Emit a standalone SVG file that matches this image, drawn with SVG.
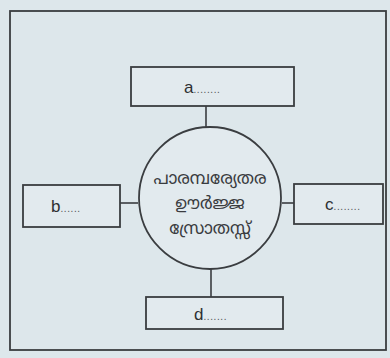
<svg xmlns="http://www.w3.org/2000/svg" width="390" height="358" viewBox="0 0 390 358">
<style>
.frame{fill:none;stroke:#3a3d40;stroke-width:1.8}
.box{fill:#e2eaee;stroke:#3a3d40;stroke-width:1.8}
.conn line{stroke:#3a3d40;stroke-width:1.6}
.lbl{font-family:"Liberation Sans",Arial,sans-serif;font-size:17px;fill:#2e3033}
.dots{font-family:"Liberation Sans",Arial,sans-serif;font-size:10px;fill:#555;letter-spacing:0.6px}
.ml{font-family:"Noto Sans Malayalam","Noto Sans","DejaVu Sans",sans-serif;font-size:17px;fill:#3a3c3f;text-anchor:middle}
</style>
<rect width="390" height="358" fill="#dde7eb"/>
<rect class="frame" x="10" y="11" width="376" height="339"/>
<g class="conn">
<line x1="206" y1="106" x2="206" y2="128"/>
<line x1="120" y1="203" x2="138" y2="203"/>
<line x1="282" y1="203" x2="294" y2="203"/>
<line x1="211" y1="269" x2="211" y2="297"/>
</g>
<g id="center">
<circle class="box" cx="210" cy="198" r="71"/>
<text class="ml" x="210" y="184">പാരമ്പര്യേതര</text>
<text class="ml" x="210" y="209">ഊർജ്ജ</text>
<text class="ml" x="210" y="234">സ്രോതസ്സ്</text>
</g>
<g id="a">
<rect class="box" x="131" y="67" width="163" height="39"/>
<text class="lbl" x="184" y="93">a<tspan class="dots">........</tspan></text>
</g>
<g id="b">
<rect class="box" x="23" y="185" width="97" height="42"/>
<text class="lbl" x="51" y="212">b<tspan class="dots">......</tspan></text>
</g>
<g id="c">
<rect class="box" x="294" y="184" width="89" height="40"/>
<text class="lbl" x="325" y="210">c<tspan class="dots">........</tspan></text>
</g>
<g id="d">
<rect class="box" x="146" y="297" width="137" height="32"/>
<text class="lbl" x="194" y="320">d<tspan class="dots">.......</tspan></text>
</g>
</svg>
